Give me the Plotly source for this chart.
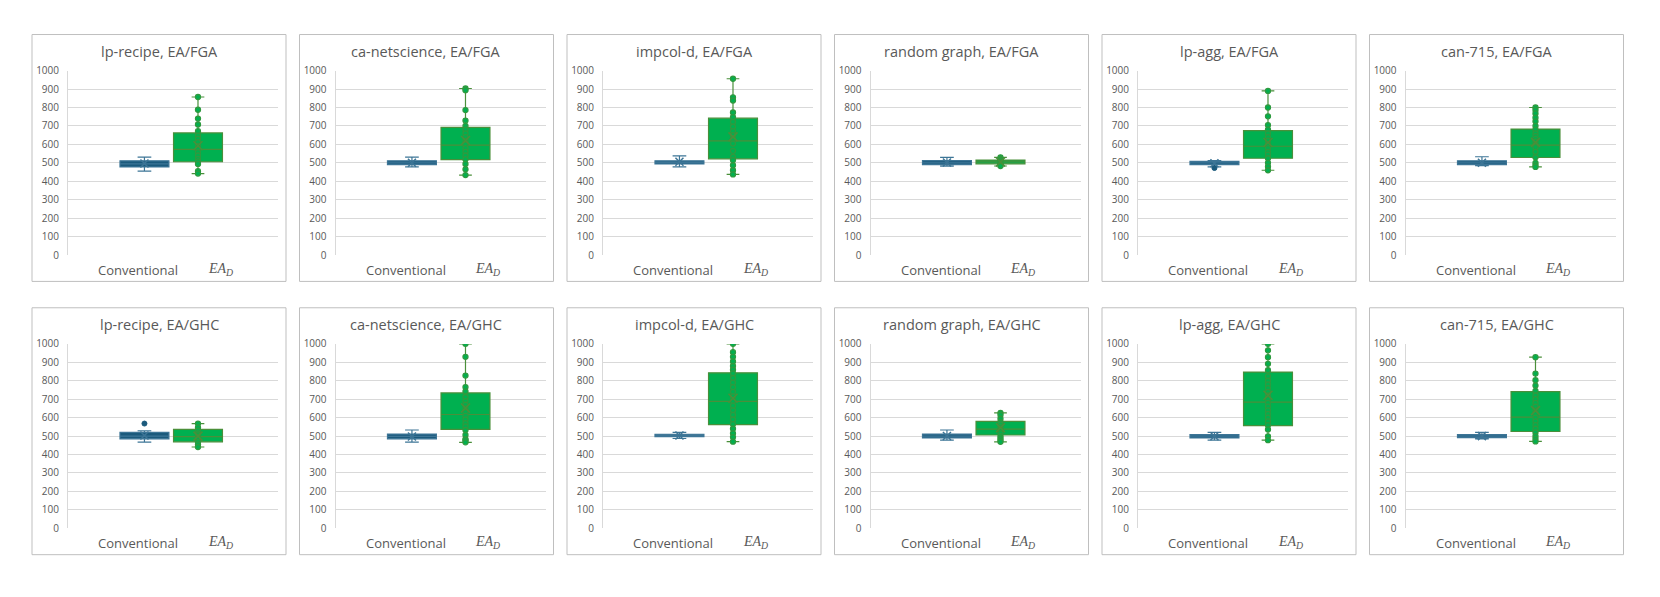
import plotly.graph_objects as go

# The page body has an 8px margin; figure is sized so it fits the window.
OFF = 8
FW, FH = 1644, 581

titles = ["lp-recipe, EA/FGA", "ca-netscience, EA/FGA", "impcol-d, EA/FGA",
          "random graph, EA/FGA", "lp-agg, EA/FGA", "can-715, EA/FGA",
          "lp-recipe, EA/GHC", "ca-netscience, EA/GHC", "impcol-d, EA/GHC",
          "random graph, EA/GHC", "lp-agg, EA/GHC", "can-715, EA/GHC"]
series_names = ["Conventional", "<i>EA</i><sub><i>D</i></sub>"]
y_ticks = [0, 100, 200, 300, 400, 500, 600, 700, 800, 900, 1000]

# Conventional: min, q1, median, q3, max, mean
conv_min = [455, 478, 478, 482, 478, 485, 467, 467, 487, 478, 478, 485]
conv_q1 = [478, 490, 494, 490, 490, 490, 485, 485, 497, 490, 490, 492]
conv_med = [495, 500, 503, 500, 500, 500, 500, 498, 503, 500, 500, 500]
conv_q3 = [511, 511, 511, 512, 508, 511, 520, 511, 510, 511, 508, 508]
conv_max = [531, 531, 538, 530, 512, 533, 529, 533, 520, 533, 520, 520]
conv_mean = [497, 501, 506, 502, 498, 501, 503, 498, 503, 501, 499, 500]
conv_outliers = [[], [], [], [], [472], [], [568], [], [], [], [], []]

# EA_D
ead_min = [442, 434, 437, 483, 460, 478, 441, 466, 470, 469, 478, 471]
ead_q1 = [506, 517, 522, 495, 525, 529, 469, 536, 562, 506, 557, 525]
ead_med = [573, 596, 619, 505, 590, 596, 497, 617, 688, 538, 684, 603]
ead_q3 = [662, 692, 742, 515, 675, 683, 536, 734, 843, 580, 847, 741]
ead_max = [857, 903, 956, 530, 890, 800, 568, 1000, 1000, 626, 1000, 928]
ead_mean = [593, 621, 641, 505, 610, 611, 500, 652, 705, 545, 721, 638]
ead_points = [
    [857, 788, 740, 708, 672, 648, 630, 612, 592, 575, 558, 540, 522, 508, 494, 455, 442],
    [903, 894, 786, 729, 700, 680, 660, 640, 620, 600, 580, 560, 540, 520, 494, 465, 434],
    [956, 855, 838, 773, 748, 722, 696, 672, 650, 628, 605, 565, 532, 515, 487, 460, 437],
    [530, 522, 515, 510, 506, 503, 500, 495, 490, 483],
    [890, 800, 752, 705, 680, 660, 640, 620, 600, 580, 560, 545, 525, 500, 480, 460],
    [800, 786, 768, 745, 725, 700, 680, 660, 645, 630, 615, 600, 585, 560, 530, 500, 488, 478],
    [568, 547, 530, 515, 505, 495, 485, 469, 455, 441],
    [1000, 930, 828, 766, 743, 712, 690, 670, 650, 630, 610, 590, 570, 553, 533, 506, 483, 478, 466],
    [1000, 955, 930, 905, 880, 860, 840, 815, 790, 765, 740, 715, 690, 665, 640, 615, 590, 565, 540, 515, 495, 470],
    [626, 615, 594, 575, 563, 548, 538, 529, 515, 500, 489, 478, 469],
    [1000, 965, 928, 892, 857, 824, 800, 780, 760, 740, 720, 700, 680, 660, 640, 620, 600, 580, 560, 536, 499, 478],
    [928, 839, 803, 774, 745, 720, 700, 680, 660, 640, 620, 600, 580, 560, 540, 520, 500, 485, 471],
]

BLUE = "#1b5a7c"
BLUE_LINE = "#3d7596"
GREEN = "#00b050"
GREEN_LINE = "#4a8f3a"
GREEN_DOT = "#2f9a3f"
TXT = "#595959"
GRID = "#d9d9d9"
FRAME = "#bfbfbf"

X_CONV, X_EAD, BOX_W = 0.364, 0.619, 0.233


def px(x):
    return (x - OFF) / FW


def py(y):
    return 1 - (y - OFF) / FH


fig = go.Figure()
shapes, annotations = [], []
layout_axes = {}

for i in range(12):
    r, c = divmod(i, 6)
    left = 32 + c * 267.5
    top = 28 if r == 0 else 308
    ax = "" if i == 0 else str(i + 1)
    layout_axes["xaxis" + ax] = dict(domain=[px(left + 36), px(left + 246)], range=[0, 1],
                                     showgrid=False, zeroline=False, showticklabels=False,
                                     ticks="", fixedrange=True, anchor="y" + ax)
    layout_axes["yaxis" + ax] = dict(domain=[py(top + 226), py(top + 37)], range=[0, 1000],
                                     tickvals=y_ticks, showgrid=True, gridcolor=GRID,
                                     gridwidth=1, zeroline=False, showline=True,
                                     linecolor=GRID, linewidth=1,
                                     tickfont=dict(family="Open Sans", size=10, color=TXT),
                                     ticks="", ticklabelstandoff=6, anchor="x" + ax)
    xa, ya = "x" + ax, "y" + ax

    fig.add_trace(go.Box(x=[X_CONV], q1=[conv_q1[i]], median=[conv_med[i]], q3=[conv_q3[i]],
                         lowerfence=[conv_min[i]], upperfence=[conv_max[i]],
                         width=BOX_W, whiskerwidth=0.28, fillcolor=BLUE,
                         line=dict(color=BLUE_LINE, width=1.2), boxpoints=False,
                         xaxis=xa, yaxis=ya, showlegend=False, hoverinfo="skip"))
    fig.add_trace(go.Box(x=[X_EAD], q1=[ead_q1[i]], median=[ead_med[i]], q3=[ead_q3[i]],
                         lowerfence=[ead_min[i]], upperfence=[ead_max[i]],
                         width=BOX_W, whiskerwidth=0.26, fillcolor=GREEN,
                         line=dict(color=GREEN_LINE, width=1.2), boxpoints=False,
                         xaxis=xa, yaxis=ya, showlegend=False, hoverinfo="skip"))
    fig.add_trace(go.Scatter(x=[X_EAD] * len(ead_points[i]), y=ead_points[i], mode="markers",
                             marker=dict(symbol="circle", size=5, color=GREEN,
                                         line=dict(color=GREEN_DOT, width=1.3)),
                             xaxis=xa, yaxis=ya, showlegend=False, hoverinfo="skip"))
    if conv_outliers[i]:
        fig.add_trace(go.Scatter(x=[X_CONV] * len(conv_outliers[i]), y=conv_outliers[i],
                                 mode="markers",
                                 marker=dict(symbol="circle", size=5, color=BLUE,
                                             line=dict(color=BLUE, width=1)),
                                 xaxis=xa, yaxis=ya, showlegend=False, hoverinfo="skip"))
    fig.add_trace(go.Scatter(x=[X_CONV], y=[conv_mean[i]], mode="markers",
                             marker=dict(symbol="x-thin-open", size=8, color="#3d7596",
                                         line=dict(color="#3d7596", width=1.5)),
                             xaxis=xa, yaxis=ya, showlegend=False, hoverinfo="skip"))
    fig.add_trace(go.Scatter(x=[X_EAD], y=[ead_mean[i]], mode="markers",
                             marker=dict(symbol="x-thin-open", size=9, color="#4a8f3a",
                                         line=dict(color="#4a8f3a", width=1.5)),
                             xaxis=xa, yaxis=ya, showlegend=False, hoverinfo="skip"))

    shapes.append(dict(type="rect", xref="paper", yref="paper",
                       x0=px(left), x1=px(left + 254), y0=py(top + 253), y1=py(top),
                       line=dict(color=FRAME, width=1), fillcolor="rgba(0,0,0,0)",
                       layer="below"))
    annotations.append(dict(text=titles[i], xref="paper", yref="paper",
                            x=px(left + 127), y=py(top + 17), showarrow=False,
                            xanchor="center", yanchor="middle",
                            font=dict(family="Open Sans", size=14.5, color=TXT)))
    annotations.append(dict(text=series_names[0], xref="paper", yref="paper",
                            x=px(left + 106), y=py(top + 241), showarrow=False,
                            xanchor="center", yanchor="middle",
                            font=dict(family="Open Sans", size=13, color=TXT)))
    annotations.append(dict(text=series_names[1], xref="paper", yref="paper",
                            x=px(left + 188), y=py(top + 241), showarrow=False,
                            xanchor="center", yanchor="middle",
                            font=dict(family="Liberation Serif", size=14, color=TXT)))

fig.update_layout(width=FW, height=FH, margin=dict(l=0, r=0, t=0, b=0),
                  paper_bgcolor="white", plot_bgcolor="white",
                  shapes=shapes, annotations=annotations, **layout_axes)
fig.write_html("out.html")
